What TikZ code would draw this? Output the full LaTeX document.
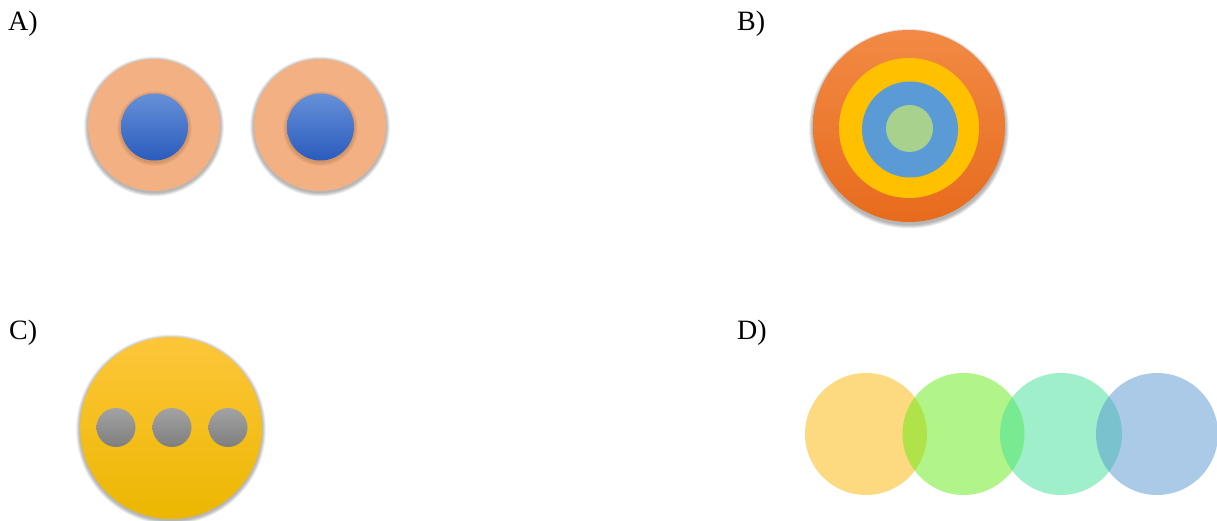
\documentclass[tikz,border=0pt]{standalone}
\usepackage{fontspec}
\setmainfont{Liberation Serif}
\begin{document}
\begin{tikzpicture}[x=1pt,y=-1pt,
  lbl/.style={anchor=base west,inner sep=0pt,font=\fontsize{28}{30}\selectfont},
  dcirc/.style={opacity=0.5}]
\definecolor{peach}{HTML}{F3B083}
\definecolor{bluetop}{HTML}{6690D8}
\definecolor{bluebot}{HTML}{2A5CBD}
\definecolor{orgtop}{HTML}{F28A45}
\definecolor{orgbot}{HTML}{E76B1C}
\definecolor{ylw}{HTML}{FFC000}
\definecolor{ltblue}{HTML}{5B9BD5}
\definecolor{ltgreen}{HTML}{A9D18E}
\definecolor{ctop}{HTML}{FDC63A}
\definecolor{cbot}{HTML}{ECB700}
\definecolor{dottop}{HTML}{A3A3A3}
\definecolor{dotbot}{HTML}{7E7E7E}
\definecolor{dyel}{HTML}{FCB501}
\definecolor{dgrn}{HTML}{65EB15}
\definecolor{dteal}{HTML}{41E199}
\definecolor{dblue}{HTML}{5797D1}
\useasboundingbox (0,0) rectangle (1217,521);
\fill[white] (0,0) rectangle (1217,521);
% soft shadow helper: centre x, centre y, radius, colour
\newcommand\mysoftshadow[4]{%
  \foreach \k in {1,...,8}{\fill[#4,opacity=0.04] (#1,#2+1.5) circle ({#3+\k*0.5});}}
% labels
\node[lbl] (la) at (8,31) {A)};
\node[lbl] (lb) at (737,31) {B)};
\node[lbl] (lc) at (9,339) {C)};
\node[lbl] (ld) at (737,339) {D)};
% ---- A ----
\foreach \cx in {154,320}{
  \mysoftshadow{\cx}{125}{66}{black}
  \fill[peach] (\cx,125) circle (66);
  \mysoftshadow{\cx+0.5}{127}{33.5}{brown!70!black}
  \shade[top color=bluetop,bottom color=bluebot] (\cx+0.5,127) circle (33.5);
}
% ---- B ----
\mysoftshadow{909}{127}{96}{black}
\shade[top color=orgtop,bottom color=orgbot] (909,126) circle (96);
\fill[ylw] (909,128) circle (70);
\fill[ltblue] (910,129.5) circle (48);
\fill[ltgreen] (909.5,128.5) circle (23.5);
% ---- C ----
\mysoftshadow{171}{428}{91}{black}
\shade[top color=ctop,bottom color=cbot] (171,428) circle (91);
\foreach \dx in {116,172,228}{
  \shade[top color=dottop,bottom color=dotbot] (\dx,427.5) circle (19.5);
}
% ---- D ----
\fill[dyel,dcirc] (866,434) circle (61);
\fill[dgrn,dcirc] (963.5,434) circle (61);
\fill[dteal,dcirc] (1061,434) circle (61);
\fill[dblue,dcirc] (1157,434) circle (61);
\end{tikzpicture}
\end{document}
